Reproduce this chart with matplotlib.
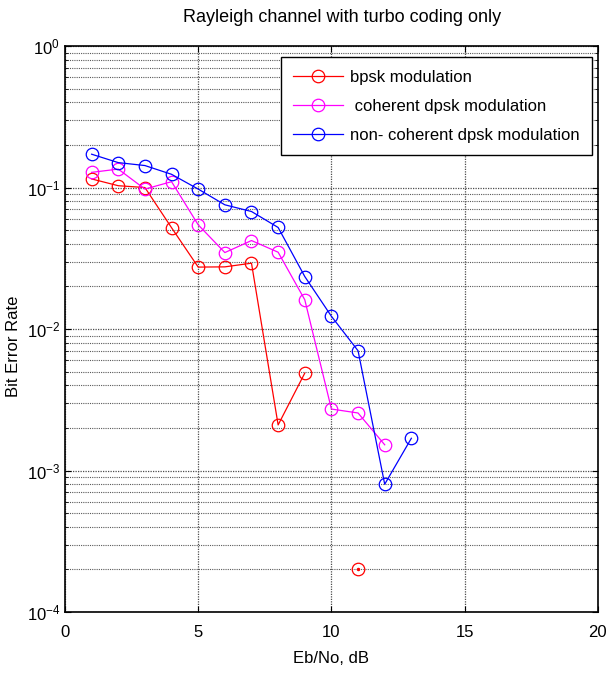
import numpy as np
import matplotlib.pyplot as plt
from matplotlib.ticker import LogLocator, NullFormatter

plt.rcParams['font.family'] = ['Liberation Sans', 'DejaVu Sans']

# ---- BER results (Rayleigh channel, turbo coded) ----
ebno = [1, 2, 3, 4, 5, 6, 7, 8, 9, 10, 11, 12, 13]

ber_bpsk = [0.115, 0.103, 0.100, 0.052, 0.0274, 0.0275, 0.0292, 0.0021, 0.00488,
            np.nan, 2.0e-4, np.nan, np.nan]
ber_coh_dpsk = [0.128, 0.135, 0.0975, 0.110, 0.0545, 0.0347, 0.0422, 0.0349,
                0.0161, 0.00272, 0.00255, 0.00152, np.nan]
ber_noncoh_dpsk = [0.172, 0.150, 0.143, 0.124, 0.0975, 0.0755, 0.0677, 0.0522,
                   0.0235, 0.0123, 0.00702, 0.00080, 0.00169]

labels = ['bpsk modulation', ' coherent dpsk modulation', 'non- coherent dpsk modulation']
colors = ['#ff0000', '#ff00ff', '#0000ff']

fig = plt.figure(figsize=(6.09, 6.75), dpi=100)
ax = fig.add_axes([0.1067, 0.0933, 0.875, 0.8385])

for ber, lab, c in zip([ber_bpsk, ber_coh_dpsk, ber_noncoh_dpsk], labels, colors):
    ax.semilogy(ebno, ber, color=c, linewidth=0.9, marker='o', markersize=9,
                markerfacecolor='none', markeredgecolor=c, markeredgewidth=0.9, label=lab)

# isolated bpsk point at 11 dB
ax.plot(ebno[10], ber_bpsk[10], marker='.', color=colors[0], markersize=3)

ax.set_xlim(0, 20)
ax.set_ylim(1e-4, 1)
ax.set_xticks([0, 5, 10, 15, 20])
ax.yaxis.set_major_locator(LogLocator(base=10, numticks=10))
ax.yaxis.set_minor_locator(LogLocator(base=10, subs=np.arange(2, 10), numticks=20))
ax.yaxis.set_minor_formatter(NullFormatter())

ax.grid(True, which='major', color='0.3', linestyle=(0, (1, 1)), linewidth=0.9)
ax.grid(True, which='minor', axis='y', color='0.35', linestyle=(0, (1, 1)), linewidth=0.8)

ax.tick_params(which='both', direction='in', top=True, right=True, labelsize=12)
ax.tick_params(axis='x', pad=9)
ax.tick_params(which='major', length=4)
ax.tick_params(which='minor', length=2)
for s in ax.spines.values():
    s.set_linewidth(1.2)

ax.set_title('Rayleigh channel with turbo coding only', fontsize=13, pad=17, x=0.52)
ax.set_xlabel('Eb/No, dB', fontsize=12, labelpad=8)
ax.set_ylabel('Bit Error Rate', fontsize=12)
ax.yaxis.set_label_coords(-0.083, 0.47)

leg = ax.legend(loc='upper right', bbox_to_anchor=(0.989, 0.9806), borderaxespad=0,
                fontsize=12, frameon=True, fancybox=False, edgecolor='black',
                framealpha=1, handlelength=3.0, handletextpad=0.4,
                labelspacing=0.85, borderpad=0.75)
leg.get_frame().set_linewidth(1.0)

plt.savefig('out.png', dpi=100)
